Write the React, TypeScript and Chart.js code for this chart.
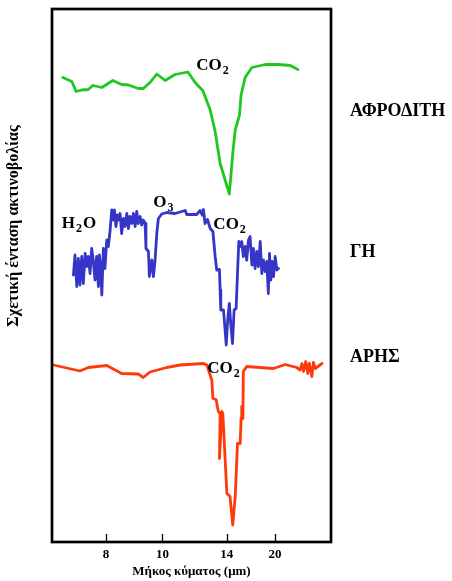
import { useEffect, useRef } from "react";
import { Chart, registerables } from "chart.js";

Chart.register(...registerables);

// Wavenumber (cm^-1) positions of the tick labels (wavelength in μm)
const TICK_WAVENUMBERS = [1250, 1000, 714.3, 500];
const TICK_LABELS = ["8", "10", "14", "20"];

const PLANET_NAMES = ["ΑΦΡΟΔΙΤΗ", "ΓΗ", "ΑΡΗΣ"];

// Venus spectrum (offset relative intensity)
const VENUS_WN = [1442, 1402, 1383, 1358, 1329, 1309, 1269, 1220, 1181, 1151, 1107, 1085, 1055, 1025, 988, 944, 887, 855, 821, 788, 766, 744, 703, 688, 677, 658, 651, 633, 603, 544, 485, 433, 399];
const VENUS_I = [92.9, 92.1, 90.1, 90.4, 90.5, 91.3, 90.9, 92.3, 91.5, 91.4, 90.7, 90.7, 91.9, 93.6, 92.3, 93.5, 94.0, 91.9, 90.3, 86.4, 82.1, 75.7, 69.6, 77.7, 82.4, 85.4, 89.4, 92.9, 94.9, 95.5, 95.5, 95.3, 94.5];

// Earth spectrum
const EARTH_WN = [1395, 1388, 1380, 1373, 1366, 1358, 1351, 1343, 1336, 1329, 1321, 1314, 1307, 1299, 1292, 1284, 1280, 1274, 1269, 1262, 1255, 1247, 1240, 1232, 1225, 1218, 1213, 1206, 1200, 1194, 1188, 1181, 1173, 1166, 1158, 1151, 1144, 1136, 1129, 1121, 1114, 1107, 1099, 1092, 1085, 1077, 1073, 1062, 1058, 1047, 1040, 1033, 1025, 1018, 1003, 981, 944, 899, 892, 848, 833, 823, 818, 811, 800, 788, 776, 766, 759, 747, 744, 741, 729, 722, 717, 710, 703, 697, 689, 682, 673, 667, 661, 655, 648, 641, 633, 626, 618, 611, 603, 596, 589, 581, 574, 566, 559, 552, 544, 537, 530, 525, 519, 514, 507, 500, 492, 485];
const EARTH_I = [53.4, 57.4, 51.1, 56.7, 51.4, 57.1, 51.7, 57.7, 55.1, 57.1, 53.7, 58.7, 56.4, 52.4, 57.1, 51.1, 57.4, 55.1, 49.4, 58.7, 54.7, 60.4, 59.1, 62.4, 66.4, 64.4, 66.4, 63.1, 65.4, 64.4, 65.7, 61.7, 64.7, 63.1, 65.7, 62.7, 65.1, 63.7, 65.7, 63.1, 66.1, 63.7, 65.1, 63.4, 64.4, 63.7, 58.7, 58.1, 53.1, 56.4, 53.1, 56.1, 61.7, 64.7, 65.6, 65.9, 65.7, 66.3, 65.5, 65.5, 66.3, 65.4, 66.5, 63.7, 64.5, 62.7, 62.1, 57.1, 54.4, 54.5, 50.4, 46.4, 46.4, 42.4, 39.4, 44.7, 47.7, 43.7, 39.7, 46.4, 46.7, 53.7, 60.1, 59.1, 60.1, 57.1, 59.1, 56.4, 60.4, 61.1, 55.4, 58.7, 54.7, 58.1, 55.1, 60.1, 53.7, 56.4, 54.1, 56.1, 49.7, 57.7, 52.4, 56.1, 53.1, 57.1, 54.4, 54.7];

// Mars spectrum
const MARS_WN = [1484, 1395, 1366, 1329, 1247, 1181, 1107, 1085, 1055, 981, 922, 818, 803, 781, 776, 762, 752, 744, 747, 736, 732, 714, 700, 688, 677, 667, 655, 651, 648, 643, 641, 626, 507, 455, 404, 389, 381, 374, 364, 355, 348, 337, 330, 322, 292];
const MARS_I = [35.4, 34.5, 34.2, 34.9, 35.3, 33.7, 33.6, 32.9, 34.0, 34.9, 35.4, 35.7, 35.4, 32.4, 28.7, 28.5, 26.1, 25.7, 16.7, 26.1, 25.7, 9.7, 9.1, 3.4, 9.1, 19.7, 19.7, 24.7, 27.1, 24.7, 34.1, 35.1, 34.7, 35.5, 34.9, 34.4, 35.7, 34.1, 36.1, 33.7, 35.7, 33.1, 35.9, 34.7, 35.7];

const SERIF = '"Liberation Serif", "Times New Roman", serif';

type Lbl = { main: string; sub: string; x: number; y: number };
// annotation labels: anchored in data coordinates (wavenumber, intensity)
const ANNOTATIONS: Lbl[] = [
  { main: "CO", sub: "2", x: 850, y: 94.5 },
  { main: "H", sub: "2", x: 1447, y: 62.8 },
  { main: "O", sub: "3", x: 1041, y: 67.1 },
  { main: "CO", sub: "2", x: 774, y: 62.6 },
  { main: "CO", sub: "2", x: 801, y: 33.9 },
];

const pairs = (xs: number[], ys: number[]) => xs.map((x, i) => ({ x, y: ys[i] }));

const framePlugin = {
  id: "frameAndText",
  afterDraw(chart: any) {
    const { ctx, chartArea } = chart;
    const xs = chart.scales.x;
    const ys = chart.scales.y;
    ctx.save();
    // frame
    ctx.strokeStyle = "#000";
    ctx.lineWidth = 2.7;
    ctx.strokeRect(chartArea.left, chartArea.top, chartArea.right - chartArea.left, chartArea.bottom - chartArea.top);
    // inward tick marks
    ctx.lineWidth = 1.3;
    TICK_WAVENUMBERS.forEach((v) => {
      const px = Math.round(xs.getPixelForValue(v)) + 0.5;
      ctx.beginPath();
      ctx.moveTo(px, chartArea.bottom - 8);
      ctx.lineTo(px, chartArea.bottom);
      ctx.stroke();
    });
    // molecule annotations
    ctx.fillStyle = "#000";
    ctx.textBaseline = "alphabetic";
    ctx.textAlign = "left";
    ANNOTATIONS.forEach((a) => {
      const px = xs.getPixelForValue(a.x);
      const py = ys.getPixelForValue(a.y);
      ctx.font = `bold 17px ${SERIF}`;
      const w = ctx.measureText(a.main).width;
      ctx.fillText(a.main, px, py);
      ctx.font = `bold 12px ${SERIF}`;
      ctx.fillText(a.sub, px + w + 1, py + 4);
      if (a.main === "H") {
        const ws = ctx.measureText(a.sub).width;
        ctx.font = `bold 17px ${SERIF}`;
        ctx.fillText("O", px + w + ws + 2, py);
      }
    });
    // planet names to the right
    ctx.font = `bold 18px ${SERIF}`;
    const nameY = [116, 257, 362];
    PLANET_NAMES.forEach((n, i) => {
      ctx.fillText(n, chartArea.right + 19, nameY[i]);
    });
    // y-axis title
    ctx.font = `bold 16px ${SERIF}`;
    ctx.translate(13.5, 226);
    ctx.rotate(-Math.PI / 2);
    ctx.textAlign = "center";
    ctx.textBaseline = "middle";
    ctx.fillText("Σχετική ένταση ακτινοβολίας", 0, 0);
    ctx.restore();
  },
};

export default function App() {
  const ref = useRef<HTMLCanvasElement | null>(null);
  useEffect(() => {
    if (!ref.current) return;
    const common = { borderWidth: 2.8, pointRadius: 0, tension: 0, borderJoinStyle: "round" as const, borderCapStyle: "round" as const, fill: false };
    const chart = new Chart(ref.current, {
      type: "line",
      data: {
        datasets: [
          { ...common, label: PLANET_NAMES[0], data: pairs(VENUS_WN, VENUS_I), borderColor: "#1ec81e" },
          { ...common, label: PLANET_NAMES[1], data: pairs(EARTH_WN, EARTH_I), borderColor: "#3535c8" },
          { ...common, label: PLANET_NAMES[2], data: pairs(MARS_WN, MARS_I), borderColor: "#ff3a0a" },
        ],
      },
      options: {
        responsive: false,
        animation: false,
        events: [],
        layout: { padding: { left: 52, right: 121, top: 9, bottom: 0 } },
        plugins: { legend: { display: false }, tooltip: { enabled: false }, title: { display: false } },
        scales: {
          x: {
            type: "linear",
            reverse: true,
            min: 252,
            max: 1490,
            afterBuildTicks: (s: any) => {
              s.ticks = TICK_WAVENUMBERS.map((v) => ({ value: v }));
            },
            afterFit: (s: any) => {
              s.height = 39;
            },
            grid: { display: false, drawTicks: false },
            border: { display: false },
            ticks: {
              autoSkip: false,
              maxRotation: 0,
              padding: 5,
              color: "#000",
              font: { family: SERIF, size: 13, weight: "bold" },
              callback: (_v: any, i: number) => TICK_LABELS[i],
            },
            title: {
              display: true,
              text: "Μήκος κύματος (μm)",
              color: "#000",
              font: { family: SERIF, size: 13, weight: "bold" },
              padding: { top: 0, bottom: 2 },
            },
          },
          y: { display: false, min: 0, max: 106.6 },
        },
      },
      plugins: [framePlugin],
    });
    return () => chart.destroy();
  }, []);
  return (
    <div style={{ position: "fixed", left: 0, top: 0, width: 452, height: 581, background: "#fff" }}>
      <canvas ref={ref} width={452} height={581} style={{ display: "block" }} />
    </div>
  );
}
